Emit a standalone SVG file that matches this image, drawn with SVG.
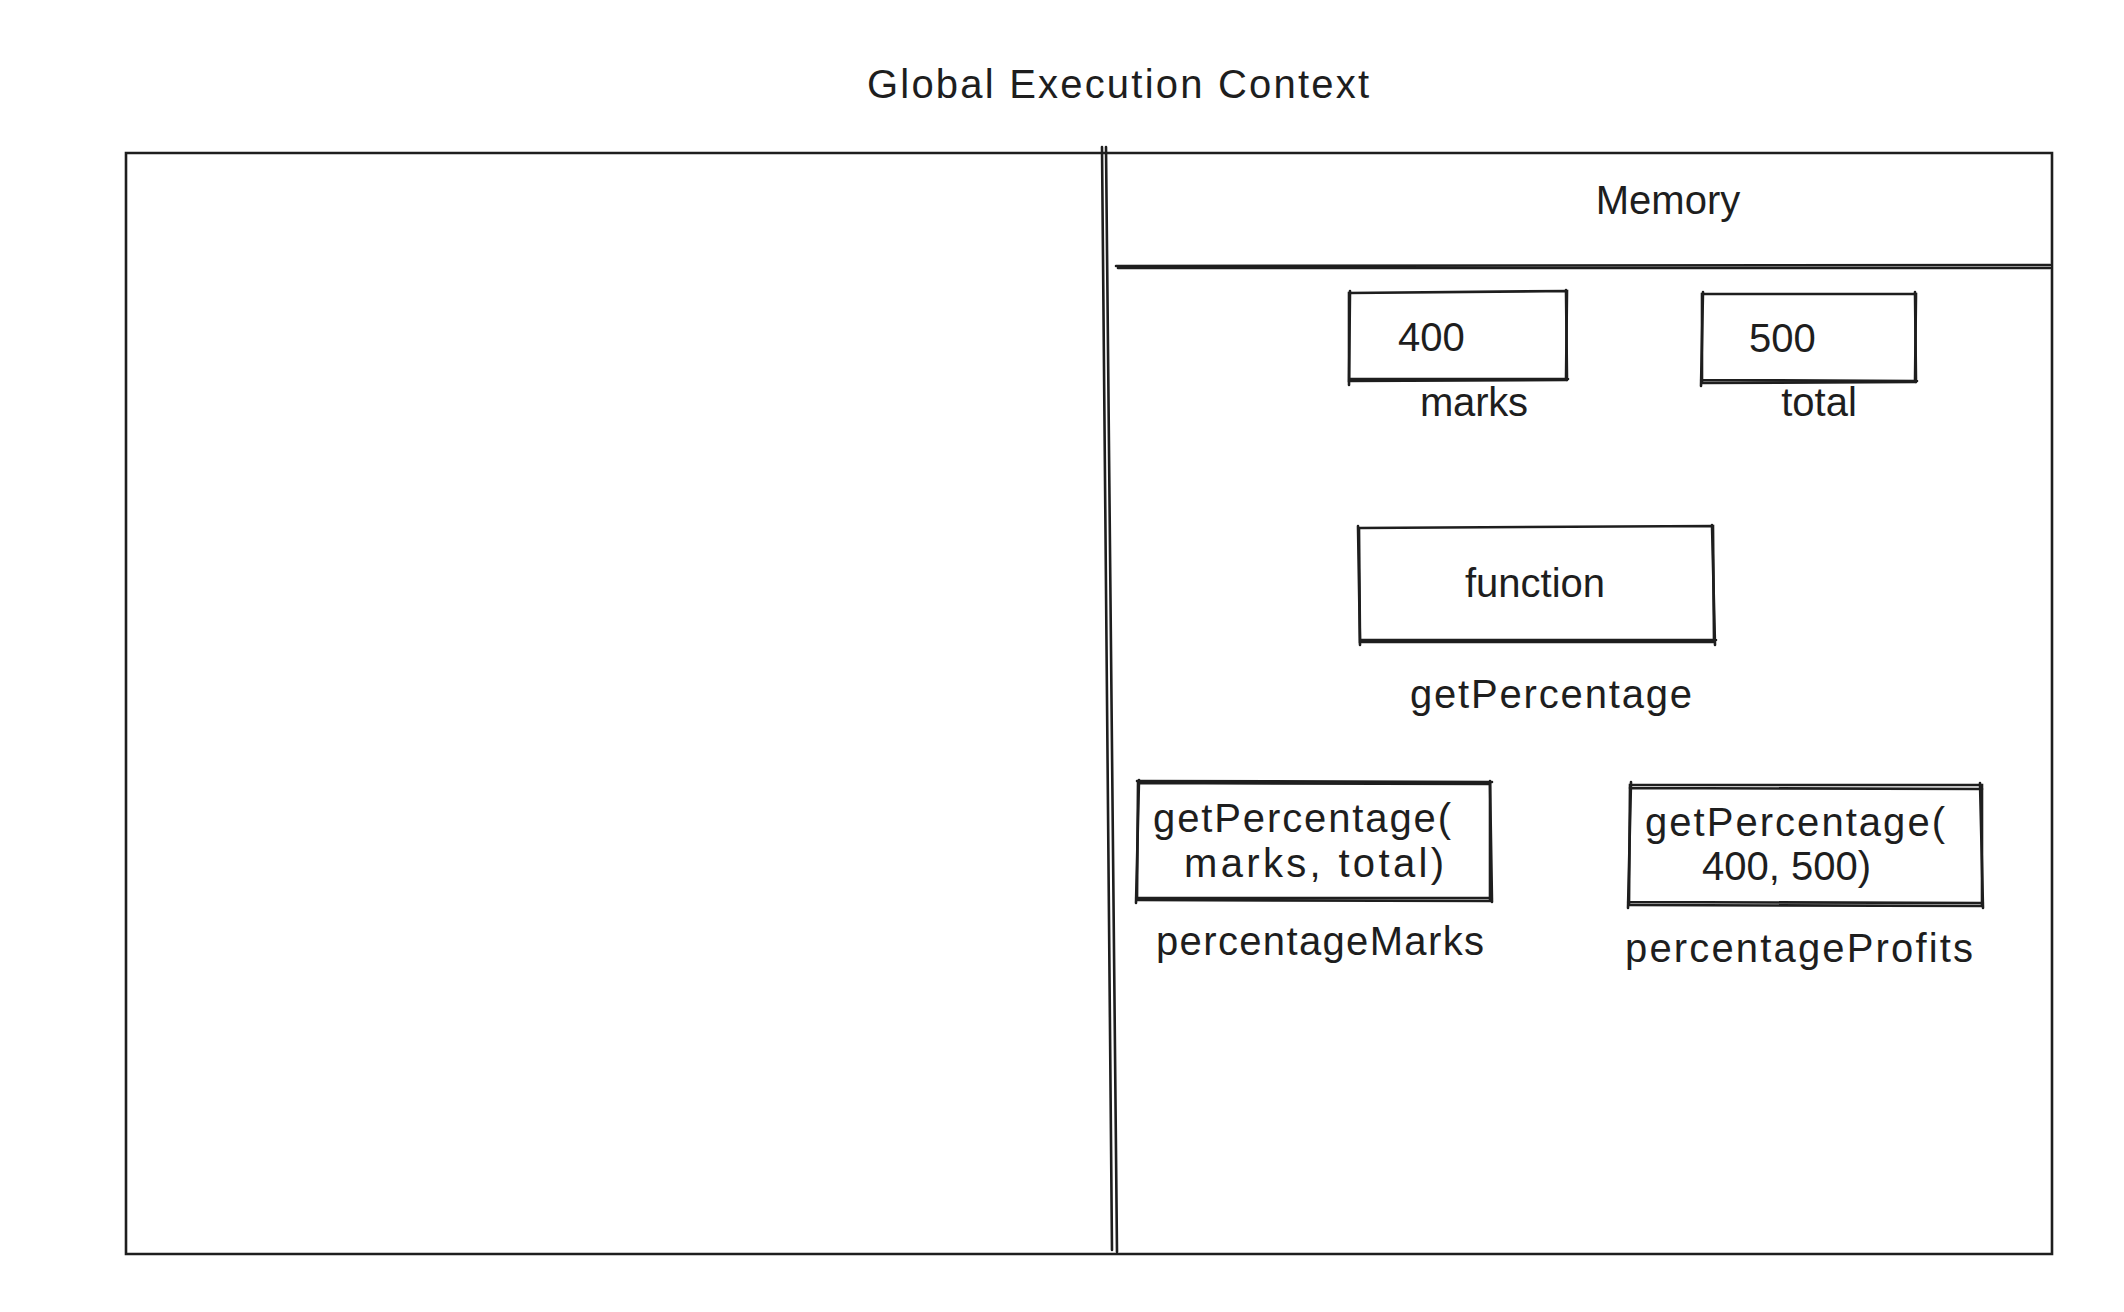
<svg xmlns="http://www.w3.org/2000/svg" width="2124" height="1312" viewBox="0 0 2124 1312">
<style>
.s{fill:none;stroke:#1e1e1e;stroke-width:2.6;stroke-linecap:round}
.t{font-family:"Liberation Sans",Arial,sans-serif;fill:#1e1e1e;font-size:40px}
</style>
<rect width="2124" height="1312" fill="#ffffff"/>
<g id="title"><text class="t" x="1118" y="98" text-anchor="middle" font-size="44" textLength="502">Global Execution Context</text></g>
<g id="context">
<path class="s" stroke-width="3.2" d="M126 153 L2052 153 L2052 1254 L126 1254 Z"/>
</g>
<g id="connectors">
<path class="s" d="M1102 147 L1112 1250"/>
<path class="s" d="M1106 147 L1117 1252"/>
<path class="s" stroke-width="3" d="M1116 266 L2050 265"/>
<path class="s" stroke-width="1.4" d="M1118 268 L2050 268"/>
</g>
<g id="memory"><text class="t" x="1668" y="214" text-anchor="middle" font-size="41">Memory</text></g>
<g id="marks">
<path class="s" d="M1349 293 L1567 291 L1566 380 L1349 381 Z"/>
<path class="s" stroke-width="1.4" d="M1350 291 L1349 385 M1349 379 L1568 379 M1566 290 L1567 380"/>
<text class="t" x="1398" y="351" font-size="44">400</text>
<text class="t" x="1474" y="416" text-anchor="middle" textLength="108">marks</text>
</g>
<g id="total">
<path class="s" d="M1702 294 L1916 294 L1915 382 L1702 383 Z"/>
<path class="s" stroke-width="1.4" d="M1703 292 L1701 386 M1701 380 L1917 381 M1915 292 L1916 382"/>
<text class="t" x="1749" y="352" font-size="44">500</text>
<text class="t" x="1819" y="416" text-anchor="middle" font-size="42">total</text>
</g>
<g id="getPercentage">
<path class="s" d="M1359 528 L1713 526 L1714 642 L1360 642 Z"/>
<path class="s" stroke-width="1.4" d="M1358 526 L1360 645 M1361 640 L1716 640 M1712 525 L1715 645"/>
<text class="t" x="1535" y="597" text-anchor="middle" font-size="41">function</text>
<text class="t" x="1551" y="708" text-anchor="middle" textLength="282">getPercentage</text>
</g>
<g id="percentageMarks">
<path class="s" d="M1138 783 L1490 784 L1490 901 L1137 900 Z"/>
<path class="s" stroke-width="1.4" d="M1137 781 L1492 782 M1139 780 L1136 903 M1136 898 L1492 898 M1490 781 L1492 902"/>
<text class="t" x="1153" y="832" textLength="298">getPercentage(</text>
<text class="t" x="1184" y="877" textLength="260">marks, total)</text>
<text class="t" x="1320" y="955" text-anchor="middle" textLength="328">percentageMarks</text>
</g>
<g id="percentageProfits">
<path class="s" d="M1630 785 L1982 785 L1982 906 L1629 905 Z"/>
<path class="s" stroke-width="1.4" d="M1631 782 L1628 908 M1628 902 L1983 903 M1980 783 L1983 908 M1630 788 L1982 789"/>
<text class="t" x="1645" y="836" textLength="300">getPercentage(</text>
<text class="t" x="1702" y="880" font-size="42">400, 500)</text>
<text class="t" x="1799" y="962" text-anchor="middle" textLength="348">percentageProfits</text>
</g>
</svg>
